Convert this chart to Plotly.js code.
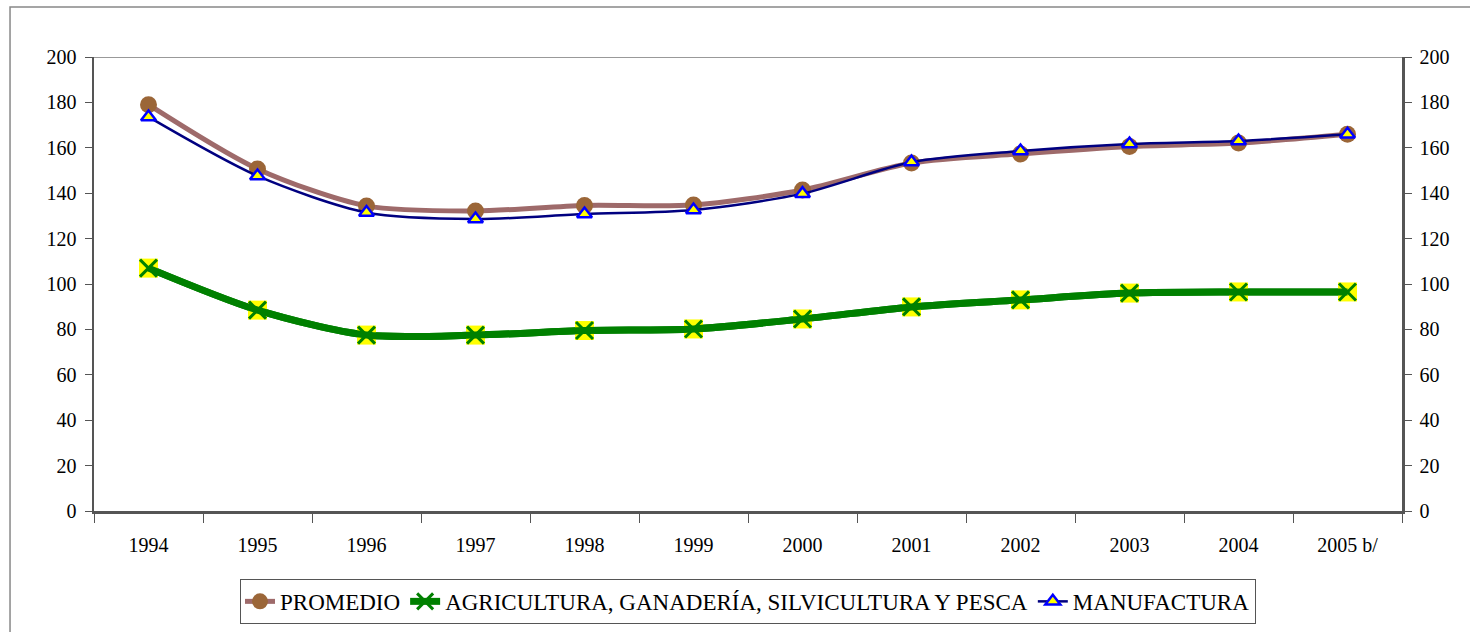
<!DOCTYPE html>
<html>
<head>
<meta charset="utf-8">
<script src="https://cdn.plot.ly/plotly-3.0.1.min.js"></script>
<style>
  body { margin: 0; background: #fff; }
  #chart { width: 1470px; height: 632px; }
</style>
</head>
<body>
<div id="chart"></div>
<script>
// DATA
const years = ['1994', '1995', '1996', '1997', '1998', '1999', '2000', '2001', '2002', '2003', '2004', '2005 b/'];
const promedio = [179, 150.7, 134.4, 132.2, 134.6, 134.8, 141.4, 153.3, 157.3, 160.6, 162.1, 166];
const agricultura = [107, 88.5, 77.5, 77.5, 79.5, 80.2, 84.6, 89.9, 93, 96, 96.5, 96.5];
const manufactura = [173.6, 147.6, 131.5, 128.6, 130.8, 132.6, 139.8, 153.7, 158.6, 161.7, 163, 166];

const chart = document.getElementById('chart');
const serif = 'Liberation Serif';

// TRACES
var tPromedio = {
    x: years, y: promedio,
    name: 'PROMEDIO',
    mode: 'lines+markers',
    line: { color: '#9e6a6a', width: 5, shape: 'spline', smoothing: 0.8 },
    marker: { symbol: 'circle', size: 17, color: '#9b6638' }
};
// yellow squares under the green X marks
var tAgriBack = {
    x: years, y: agricultura,
    mode: 'lines+markers',
    showlegend: false,
    legendgroup: 'agri',
    hoverinfo: 'skip',
    line: { color: '#008000', width: 7, shape: 'spline', smoothing: 0.8 },
    marker: { symbol: 'square', size: 19, color: '#ffff00' }
};
var tAgri = {
    x: years, y: agricultura,
    name: 'AGRICULTURA, GANADERÍA, SILVICULTURA Y PESCA',
    mode: 'lines+markers',
    legendgroup: 'agri',
    line: { color: '#008000', width: 7, shape: 'spline', smoothing: 0.8 },
    marker: { symbol: 'x-thin', size: 17, color: '#008000', line: { color: '#008000', width: 3 } }
};
var tManu = {
    x: years, y: manufactura,
    name: 'MANUFACTURA',
    mode: 'lines+markers',
    yaxis: 'y2',
    line: { color: '#000080', width: 2.5, shape: 'spline', smoothing: 0.8 },
    marker: { symbol: 'triangle-up', size: 13, color: '#ffff00', line: { color: '#0000ff', width: 2.5 } }
};

var axisY = {
    range: [0, 200],
    dtick: 20,
    automargin: false,
    showgrid: false,
    zeroline: false,
    showline: true,
    linecolor: '#555',
    linewidth: 2.5,
    ticks: 'outside',
    ticklen: 7,
    tickcolor: '#555',
    ticklabelstandoff: 4,
    tickfont: { family: serif, size: 20, color: '#000' },
    fixedrange: true
};

var layout = {
    width: 1470,
    height: 632,
    margin: { l: 94, r: 68, t: 57, b: 121, autoexpand: false },
    paper_bgcolor: '#fff',
    plot_bgcolor: '#fff',
    font: { family: serif },
    showlegend: true,
    legend: {
        orientation: 'h',
        xref: 'paper', x: 0.5, xanchor: 'center',
        yref: 'container', y: 0.084, yanchor: 'top',
        bordercolor: '#555',
        borderwidth: 1,
        bgcolor: '#fff',
        font: { family: serif, size: 23, color: '#000' },
        itemwidth: 30,
        tracegroupgap: 0
    },
    xaxis: {
        type: 'category',
        range: [-0.5, 11.5],
        automargin: false,
        tickson: 'boundaries',
        showgrid: false,
        showline: true,
        linecolor: '#555',
        linewidth: 2.5,
        ticks: 'outside',
        ticklen: 9,
        tickcolor: '#555',
        ticklabelstandoff: 14,
        tickfont: { family: serif, size: 20, color: '#000' },
        fixedrange: true
    },
    yaxis: axisY,
    yaxis2: Object.assign({}, axisY, { overlaying: 'y', side: 'right' }),
    shapes: [
        // top edge of the plot area
        { type: 'line', xref: 'paper', yref: 'y', x0: 0, x1: 1, y0: 200, y1: 200,
          line: { color: '#999', width: 2 } },
        // outer frame
        { type: 'rect', xref: 'paper', yref: 'paper', x0: -0.0642, x1: 1.2, y0: -0.4, y1: 1.11,
          line: { color: '#888', width: 1.5 }, layer: 'below' }
    ]
};

Plotly.newPlot(chart, [tPromedio, tAgriBack, tAgri, tManu], layout, { displayModeBar: false, staticPlot: true });
</script>
</body>
</html>
